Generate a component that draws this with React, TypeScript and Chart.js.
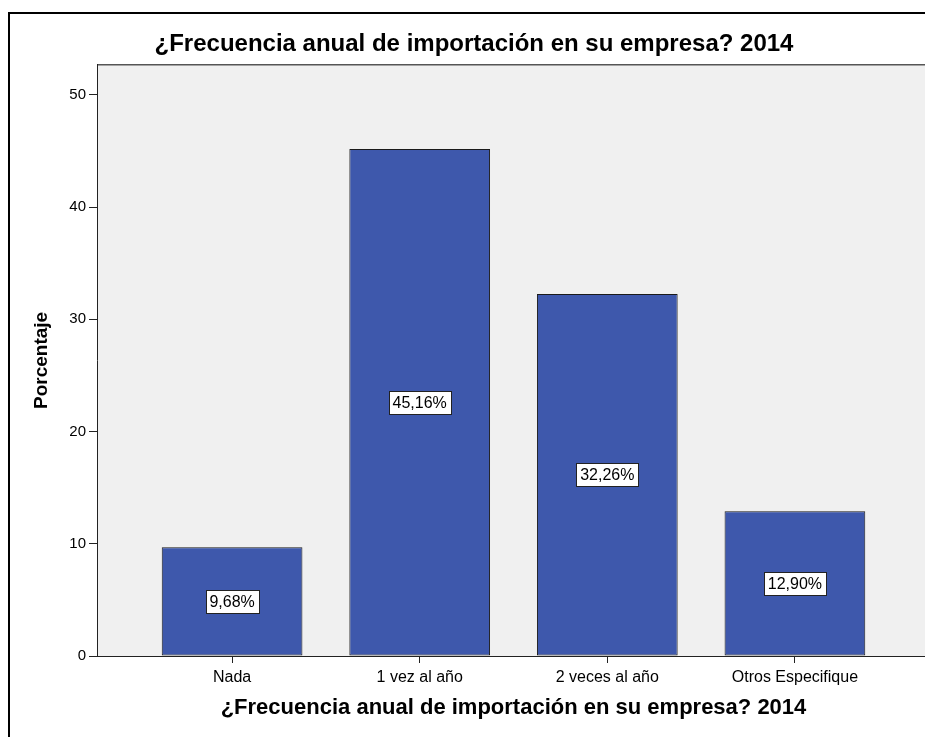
import React, { useEffect, useRef } from "react";
import { Chart, registerables } from "chart.js";

Chart.register(...registerables);

const categories = ["Nada", "1 vez al año", "2 veces al año", "Otros Especifique"];
const percentages = [9.68, 45.16, 32.26, 12.9];
const yTicks = [0, 10, 20, 30, 40, 50];
const yMax = 52.67;
const chartTitle = "¿Frecuencia anual de importación en su empresa? 2014";
const xTitle = "¿Frecuencia anual de importación en su empresa? 2014";
const yTitle = "Porcentaje";

const FONT = "'Liberation Sans', Arial, sans-serif";

export default function App() {
  const ref = useRef<HTMLCanvasElement>(null);

  useEffect(() => {
    const canvas = ref.current!;
    const bgPlugin = {
      id: "plotBg",
      beforeDraw(chart: any) {
        const { ctx, chartArea: a } = chart;
        ctx.save();
        ctx.fillStyle = "#F0F0F0";
        ctx.fillRect(a.left, a.top, a.right - a.left, a.bottom - a.top);
        ctx.strokeStyle = "#555555";
        ctx.lineWidth = 1.5;
        ctx.beginPath();
        ctx.moveTo(a.left, a.top);
        ctx.lineTo(a.right, a.top);
        ctx.stroke();
        ctx.restore();
      },
    };
    const labelPlugin = {
      id: "barLabels",
      afterDatasetsDraw(chart: any) {
        const meta = chart.getDatasetMeta(0);
        const ds = chart.data.datasets[0].data as any[];
        const ctx = chart.ctx;
        ctx.save();
        ctx.font = `16px ${FONT}`;
        ctx.textAlign = "center";
        ctx.textBaseline = "middle";
        meta.data.forEach((bar: any, i: number) => {
          const { x, y, base } = bar.getProps(["x", "y", "base"], true);
          const cy = (y + base) / 2;
          const text = ds[i].y.toFixed(2).replace(".", ",") + "%";
          const w = Math.round(ctx.measureText(text).width + 8);
          const h = 23;
          const lx = Math.round(x - w / 2) + 0.5;
          const ly = Math.round(cy - h / 2) + 0.5;
          ctx.fillStyle = "#ffffff";
          ctx.fillRect(lx, ly, w, h);
          ctx.strokeStyle = "#222222";
          ctx.lineWidth = 1;
          ctx.strokeRect(lx, ly, w, h);
          ctx.fillStyle = "#000000";
          ctx.fillText(text, x, cy + 1);
        });
        ctx.restore();
      },
    };

    const chart = new Chart(canvas, {
      type: "bar",
      data: {
        datasets: [
          {
            data: percentages.map((v, i) => ({ x: i, y: v })),
            backgroundColor: "#3E58AC",
            borderColor: "#1a1a1a",
            borderWidth: 1,
            borderSkipped: false,
            barPercentage: 0.75,
            categoryPercentage: 1,
          },
        ],
      },
      options: {
        responsive: false,
        animation: false,
        devicePixelRatio: 1,
        layout: { padding: { left: 18, right: 20, top: 0, bottom: 0 } },
        plugins: {
          legend: { display: false },
          tooltip: { enabled: false },
          title: {
            display: true,
            text: chartTitle,
            color: "#000000",
            font: { family: FONT, size: 24, weight: "bold" },
            padding: { top: 30, bottom: 6 },
          },
        },
        scales: {
          x: {
            type: "linear",
            offset: false,
            min: -0.72,
            max: 3.72,
            afterBuildTicks: (s: any) => {
              s.ticks = categories.map((_, i) => ({ value: i }));
            },
            afterFit: (s: any) => {
              s.height = 81;
            },
            ticks: {
              autoSkip: false,
              maxRotation: 0,
              color: "#000000",
              padding: 5,
              font: { family: FONT, size: 16 },
              callback: (v: any) => categories[v] ?? "",
            },
            grid: {
              offset: false,
              drawOnChartArea: false,
              drawTicks: true,
              tickLength: 7,
              tickColor: "#222222",
              tickWidth: 1,
            },
            border: { display: true, color: "#222222", width: 1 },
            title: {
              display: true,
              text: xTitle,
              color: "#000000",
              font: { family: FONT, size: 22, weight: "bold" },
              padding: { top: 0, bottom: 16 },
            },
          },
          y: {
            type: "linear",
            min: 0,
            max: yMax,
            afterBuildTicks: (s: any) => {
              s.ticks = yTicks.map((v) => ({ value: v }));
            },
            afterFit: (s: any) => {
              s.width = 79;
            },
            ticks: {
              color: "#000000",
              padding: 3,
              font: { family: FONT, size: 15 },
            },
            grid: {
              drawOnChartArea: false,
              drawTicks: true,
              tickLength: 8,
              tickColor: "#222222",
              tickWidth: 1,
            },
            border: { display: true, color: "#222222", width: 1 },
            title: {
              display: true,
              text: yTitle,
              color: "#000000",
              font: { family: FONT, size: 19, weight: "bold" },
              padding: { top: 12, bottom: 0 },
            },
          },
        },
      } as any,
      plugins: [bgPlugin, labelPlugin],
    });
    return () => chart.destroy();
  }, []);

  return (
    <div
      style={{
        position: "fixed",
        left: 0,
        top: 0,
        width: 925,
        height: 737,
        overflow: "hidden",
        background: "#ffffff",
      }}
    >
      <canvas
        ref={ref}
        width={950}
        height={737}
        style={{ position: "absolute", left: 0, top: 0 }}
      />
      <div
        style={{
          position: "absolute",
          left: 8,
          top: 12,
          width: 1000,
          height: 800,
          borderLeft: "2px solid #000",
          borderTop: "2px solid #000",
          pointerEvents: "none",
        }}
      />
    </div>
  );
}
